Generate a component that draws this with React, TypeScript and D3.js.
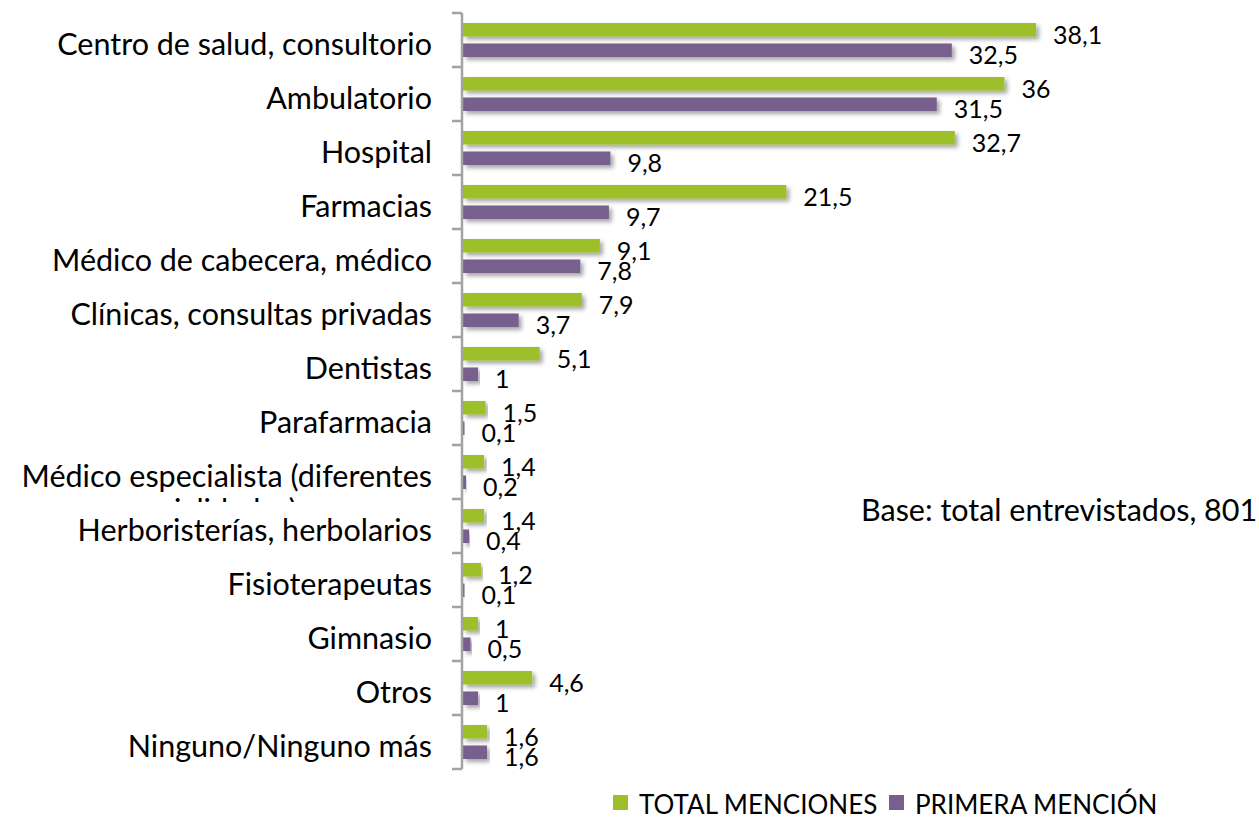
import React from "react";
import * as d3 from "d3";

const categories = [
  "Centro de salud, consultorio",
  "Ambulatorio",
  "Hospital",
  "Farmacias",
  "Médico de cabecera, médico",
  "Clínicas, consultas privadas",
  "Dentistas",
  "Parafarmacia",
  "Médico especialista (diferentes",
  "Herboristerías, herbolarios",
  "Fisioterapeutas",
  "Gimnasio",
  "Otros",
  "Ninguno/Ninguno más",
];
const totalMenciones = [38.1, 36, 32.7, 21.5, 9.1, 7.9, 5.1, 1.5, 1.4, 1.4, 1.2, 1, 4.6, 1.6];
const primeraMencion = [32.5, 31.5, 9.8, 9.7, 7.8, 3.7, 1, 0.1, 0.2, 0.4, 0.1, 0.5, 1, 1.6];
const seriesNames = ["TOTAL MENCIONES", "PRIMERA MENCIÓN"];
const seriesColors = ["#9DBF2B", "#775F8E"];
const wrappedSecondLine = "especialidades)";
const baseNote = "Base: total entrevistados, 801";

const W = 1259;
const H = 818;
const FONT = "Lato, 'Open Sans', sans-serif";

const fmt = (v: number) => String(v).replace(".", ",");

export default function App() {
  const y = d3.scaleBand<string>().domain(categories).range([13, 769]).padding(0);
  const inner = d3.scaleBand<string>().domain(seriesNames).range([10, 44]).paddingInner(0.34);
  const x = d3.scaleLinear().domain([0, 40]).range([463, 463 + 40 * 15.04]);
  const values = [totalMenciones, primeraMencion];
  const ticks = d3.range(categories.length + 1).map((i) => 13 + i * y.step());
  const axisX = 462;

  return (
    <svg
      width={W}
      height={H}
      style={{ position: "fixed", left: 0, top: 0, background: "#fff" }}
      fontFamily={FONT}
    >
      <defs>
        <filter id="shadow" x="-5%" y="-50%" width="115%" height="250%">
          <feDropShadow dx="3" dy="3" stdDeviation="2.2" floodColor="#000" floodOpacity="0.35" />
        </filter>
        <clipPath id="clip2">
          <rect x={0} y={0} width={440} height={502} />
        </clipPath>
      </defs>

      {/* bars */}
      {categories.map((c, i) => (
        <g key={c} transform={`translate(0,${y(c)})`}>
          {seriesNames.map((s, k) => {
            const v = values[k][i];
            return (
              <rect
                key={s}
                x={x(0)}
                y={inner(s)}
                width={Math.max(0.6, x(v) - x(0))}
                height={inner.bandwidth()}
                fill={seriesColors[k]}
                filter="url(#shadow)"
              />
            );
          })}
        </g>
      ))}

      {/* axis */}
      <line x1={axisX} x2={axisX} y1={ticks[0]} y2={ticks[ticks.length - 1]} stroke="#A3A3A3" strokeWidth={2.5} />
      {ticks.map((t, i) => (
        <line key={i} x1={axisX - 10} x2={axisX} y1={t} y2={t} stroke="#A3A3A3" strokeWidth={2.5} />
      ))}

      {/* value labels */}
      {categories.map((c, i) => (
        <g key={"l" + c} transform={`translate(0,${y(c)})`}>
          {seriesNames.map((s, k) => {
            const v = values[k][i];
            return (
              <text
                key={s}
                x={x(v) + 17}
                y={(inner(s) as number) + inner.bandwidth() / 2 + 4}
                dominantBaseline="central"
                fontSize={25}
                fill="#000"
              >
                {fmt(v)}
              </text>
            );
          })}
        </g>
      ))}

      {/* category labels */}
      {categories.map((c) => (
        <text
          key={"c" + c}
          x={432}
          y={(y(c) as number) + y.bandwidth() / 2 + 3}
          textAnchor="end"
          dominantBaseline="central"
          fontSize={30.5}
          fill="#000"
        >
          {c}
        </text>
      ))}
      <text
        x={297}
        y={521}
        textAnchor="end"
        fontSize={30.5}
        fill="#000"
        clipPath="url(#clip2)"
      >
        {wrappedSecondLine}
      </text>

      {/* base note */}
      <text x={861} y={509} dominantBaseline="central" fontSize={30.5} fill="#000">
        {baseNote}
      </text>

      {/* legend */}
      {seriesNames.map((s, k) => {
        const lx = k === 0 ? 613 : 889;
        return (
          <g key={"lg" + s}>
            <rect x={lx} y={795} width={15} height={15} fill={seriesColors[k]} />
            <text x={lx + 26} y={803.5} dominantBaseline="central" fontSize={26} fill="#000">
              {s}
            </text>
          </g>
        );
      })}
    </svg>
  );
}
